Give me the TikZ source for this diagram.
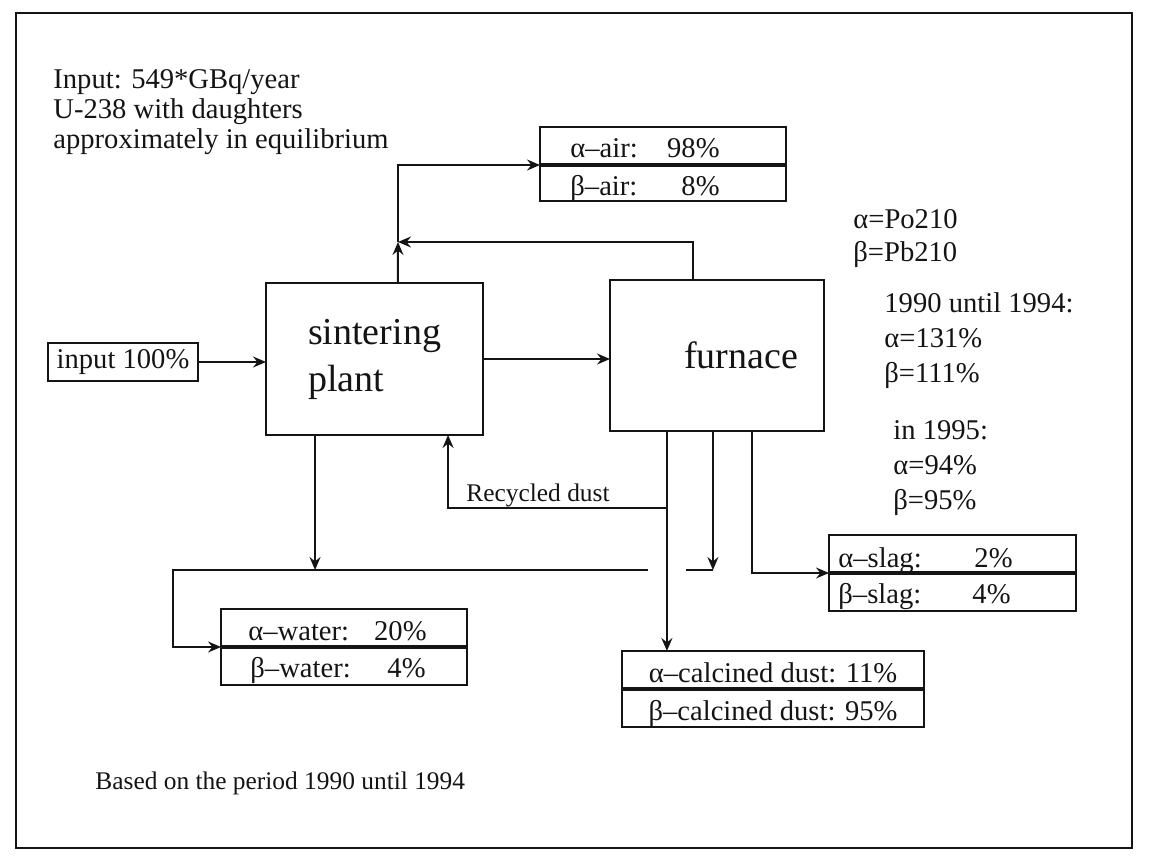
\documentclass[tikz,border=0pt]{standalone}
\usepackage{fontspec}
\setmainfont{Liberation Serif}
\usetikzlibrary{arrows.meta,calc,positioning}
\definecolor{ink}{HTML}{141414}

\begin{document}
\begin{tikzpicture}[x=0.5pt,y=-0.5pt,>={Stealth[length=6.5pt,width=5.5pt,inset=2.2pt]},
    box/.style={draw=ink,line width=1pt,inner sep=0pt,outer sep=0pt},
    txt/.style={text=ink,inner sep=0pt,font=\fontsize{14.3pt}{15pt}\selectfont},
    small/.style={text=ink,inner sep=0pt,font=\fontsize{12.7pt}{14pt}\selectfont},
    row/.style={box,txt,minimum height=19pt,text height=13pt,text depth=1pt},
    unit/.style={box,text=ink,font=\fontsize{19pt}{23.5pt}\selectfont,align=left},
    flow/.style={->,draw=ink,line width=1pt},
    link/.style={draw=ink,line width=1pt},
    divide/.style={draw=ink,line width=1.6pt}]
      \useasboundingbox (0,0) rectangle (1150,856);

      % frame
      \draw[ink,line width=1.1pt] (16,13) rectangle (1132,848);

      % process units
      \node[unit,minimum width=108.5pt,minimum height=76pt] (sinter) at (374.5,359) {sintering\\plant};
      \node[unit,minimum width=107pt,minimum height=75.5pt] (furnace) at (717,355.5) {\hspace*{24pt}furnace};
      \node[box,txt,minimum width=75pt,minimum height=19pt] (input) at (123,362) {input 100\%};

      % output boxes, two rows each
      \node[row,minimum width=123pt] (airA) at (663,146) {};
      \node[row,minimum width=123pt,minimum height=18pt,below=0pt of airA] (airB) {};
      \node[row,minimum width=123pt] (waterA) at (344,628) {};
      \node[row,minimum width=123pt,below=0pt of waterA] (waterB) {};
      \node[row,minimum width=123.5pt] (slagA) at (952.5,554) {};
      \node[row,minimum width=123.5pt,below=0pt of slagA] (slagB) {};
      \node[row,minimum width=151pt] (calcA) at (773,670) {α–calcined dust: 11\%};
      \node[row,minimum width=151pt,below=0pt of calcA] (calcB) {β–calcined dust: 95\%};
      \foreach \b in {airA,waterA,slagA,calcA}
        \draw[divide] (\b.south west) -- (\b.south east);

      % row texts
      \node[txt,anchor=base west] (airAl) at (570,157) {α–air:};
      \node[txt,anchor=base east] (airAp) at (720,157) {98\%};
      \node[txt,anchor=base west] (airBl) at (570,195) {β–air:};
      \node[txt,anchor=base east] (airBp) at (720,195) {8\%};
      \node[txt,anchor=base west] (waterAl) at (248,640) {α–water:};
      \node[txt,anchor=base east] (waterAp) at (427,640) {20\%};
      \node[txt,anchor=base west] (waterBl) at (250,677) {β–water:};
      \node[txt,anchor=base east] (waterBp) at (426,677) {4\%};
      \node[txt,anchor=base west] (slagAl) at (838,567) {α–slag:};
      \node[txt,anchor=base east] (slagAp) at (1013,567) {2\%};
      \node[txt,anchor=base west] (slagBl) at (838,603) {β–slag:};
      \node[txt,anchor=base east] (slagBp) at (1011,603) {4\%};

      % ports on the units
      \coordinate (sUp) at ($(sinter.north west)!0.608!(sinter.north east)$);
      \coordinate (sDown) at ($(sinter.south west)!0.226!(sinter.south east)$);
      \coordinate (sBack) at ($(sinter.south west)!0.839!(sinter.south east)$);
      \coordinate (fUp) at ($(furnace.north west)!0.388!(furnace.north east)$);
      \coordinate (fDust) at ($(furnace.south west)!0.266!(furnace.south east)$);
      \coordinate (fWater) at ($(furnace.south west)!0.481!(furnace.south east)$);
      \coordinate (fSlag) at ($(furnace.south west)!0.664!(furnace.south east)$);
      \coordinate (J) at (398,242);
      \coordinate (rec) at ($(fDust)+(0,77)$);
      \coordinate (wLine) at (173,570);

      % flows
      \draw[flow] (input) -- (input -| sinter.west);
      \draw[flow] (sinter.east) -- (sinter.east -| furnace.west);
      \draw[flow] (sUp) -- (J);
      \draw[flow] (J) |- (airA.south west);
      \draw[flow] (fUp) |- (J);
      \draw[flow] (sDown) -- (sDown |- wLine);
      \draw[flow] (fWater) -- (fWater |- wLine);
      \draw[link] (fWater |- wLine) -- ++(-27,0);
      \draw[flow] ($(fDust |- wLine)+(-19,0)$) -- (wLine) |- (waterA.south west);
      \draw[flow] (rec) -| (sBack);
      \draw[flow] (fDust) -- (fDust |- calcA.north);
      \draw[flow] (fSlag) |- (slagA.south west);
      \node[small,anchor=base] (recl) at (538,501) {Recycled dust};

      % notes
      \node[txt,anchor=north west,align=left] (source) at (53,69)
        {Input: 549*GBq/year\\U-238 with daughters\\approximately in equilibrium};
      \node[txt,anchor=north west,align=left,font=\fontsize{14.3pt}{16.5pt}\selectfont] (nuclides) at (853,209)
        {α=Po210\\β=Pb210};
      \node[txt,anchor=north west,align=left,font=\fontsize{14.3pt}{17.5pt}\selectfont] (years) at (884,292)
        {1990 until 1994:\\α=131\%\\β=111\%};
      \node[txt,anchor=north west,align=left,font=\fontsize{14.3pt}{17.5pt}\selectfont] (single) at (893,420)
        {in 1995:\\α=94\%\\β=95\%};
      \node[small,anchor=base west] (basis) at (95,789) {Based on the period 1990 until 1994};
    \end{tikzpicture}
\end{document}
